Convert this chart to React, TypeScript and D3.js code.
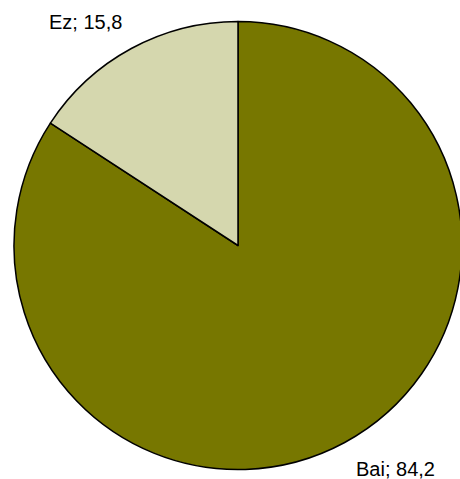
import React from "react";
import * as d3 from "d3";

const categories = ["Bai", "Ez"];
const values = [84.2, 15.8];
const labels = ["Bai; 84,2", "Ez; 15,8"];
const colors = ["#777700", "#D5D7AE"];

export default function App() {
  const width = 460;
  const height = 479;
  const cx = 238;
  const cy = 245.5;
  const r = 224;
  const pie = d3.pie<number>().sort(null).value((d) => d);
  const arcs = pie(values);
  const arc = d3.arc<d3.PieArcDatum<number>>().innerRadius(0).outerRadius(r);
  const labelPos = [
    { x: 356, y: 476 },
    { x: 49, y: 29 },
  ];
  return (
    <svg
      width={width}
      height={height}
      style={{ position: "absolute", left: 0, top: 0, background: "#fff" }}
    >
      <g transform={`translate(${cx},${cy})`}>
        {arcs.map((a, i) => (
          <path
            key={categories[i]}
            d={arc(a) || ""}
            fill={colors[i]}
            stroke="#000"
            strokeWidth={1.5}
            strokeLinejoin="round"
          />
        ))}
      </g>
      {labels.map((t, i) => (
        <text
          key={t}
          x={labelPos[i].x}
          y={labelPos[i].y}
          fontFamily="Liberation Sans, Arial, sans-serif"
          fontSize={20}
          fill="#000"
        >
          {t}
        </text>
      ))}
    </svg>
  );
}
